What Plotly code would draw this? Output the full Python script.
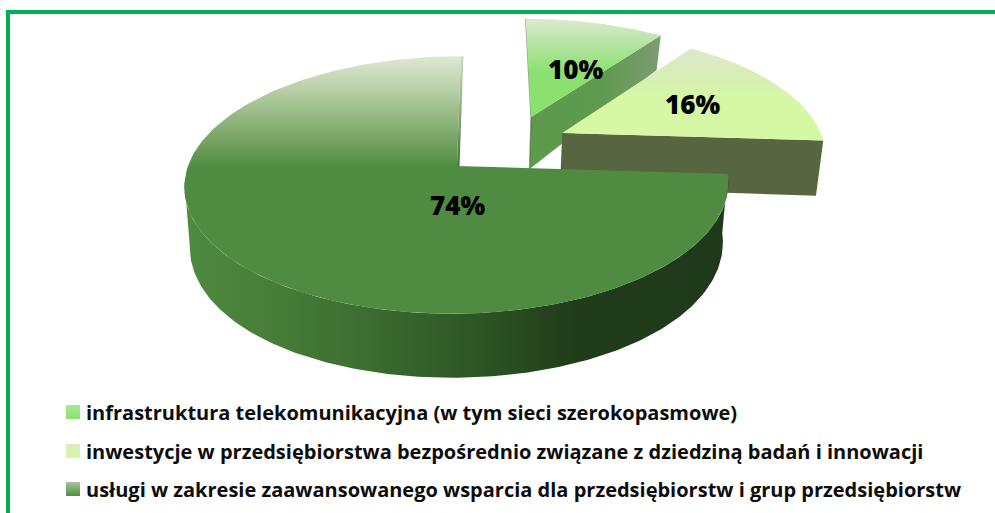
import numpy as np
import plotly.graph_objects as go

# ---- data ----
categories = [
    "infrastruktura telekomunikacyjna (w tym sieci szerokopasmowe)",
    "inwestycje w przedsiębiorstwa bezpośrednio związane z dziedziną badań i innowacji",
    "usługi w zakresie zaawansowanego wsparcia dla przedsiębiorstw i grup przedsiębiorstw",
]
values = [10, 16, 74]

# ---- style / layout constants ----
W, H = 995, 513
CX, CY = 457, 166
A, B, K, SHEAR = 126, 269, 0.147, 4.5
explode = [(0.285, 0.412), (0.402, 0.272), (0.0, 0.0)]
top_grad = [
    (18, 72, [[0, "#dcebd0"], [0.5, "#b4e4a0"], [1, "#8ce070"]]),
    (50, 98, [[0, "#dde8cc"], [0.5, "#d8edb8"], [1, "#d6f8a4"]]),
    (55, 168, [[0, "#dfe9d5"], [0.3, "#b9d0a8"], [0.7, "#7ea96b"], [1, "#4f8c42"]]),
]
swatch_top = ["#a8e896", "#dcebc4", "#a8c49c"]
swatch_bot = ["#8ce070", "#d6f8a4", "#4f8c42"]
label_xy = [(575, 69), (692, 104), (457, 205)]
legend_y = [412, 451, 489]


def depth(Y):
    return 58 - 12 * Y - 6 * Y ** 2


def project(X, Y, low=False):
    X, Y = np.asarray(X, float), np.asarray(Y, float)
    p = 1 + K * Y
    x = CX + (B * X + SHEAR * Y) / p
    y = CY - A * Y / p
    if low:
        x = CX + (x - CX) * 0.98
        y = y + depth(Y)
    return x, y


def face(xs, ys, **grad):
    return go.Scatter(x=list(xs), y=list(ys), mode="lines", line=dict(width=0),
                      fill="toself", hoverinfo="skip", showlegend=False, **grad)


def hgrad(x0, x1, scale):
    return dict(fillgradient=dict(type="horizontal", start=x0, stop=x1, colorscale=scale))


def vgrad(y0, y1, scale):
    return dict(fillgradient=dict(type="vertical", start=y0, stop=y1, colorscale=scale))


# slice angles, clockwise from twelve o'clock
edges = np.cumsum([0] + values) / sum(values) * 2 * np.pi


def arc(i, a0=None, a1=None):
    a0 = edges[i] if a0 is None else a0
    a1 = edges[i + 1] if a1 is None else a1
    th = np.linspace(a0, a1, 160)
    ex, ey = explode[i]
    return ex + np.sin(th), ey + np.cos(th)


fig = go.Figure()

# back slice 0 : cut wall and thin wall at left
ex, ey = explode[0]
Xa, Ya = arc(0)
ax, ay = project(ex, ey)
alx, aly = project(ex, ey, True)
cx, cy = project(Xa[-1], Ya[-1])
clx, cly = project(Xa[-1], Ya[-1], True)
fig.add_trace(face([ax, cx, clx, alx, ax], [ay, cy, cly, aly, ay],
                   **hgrad(float(ax), float(cx), [[0, "#5d9a4c"], [0.55, "#5f9a4e"], [1, "#7c9c72"]])))
lx, ly = project(Xa[0], Ya[0])
fig.add_trace(go.Scatter(x=[float(lx), float(ax), float(alx)], y=[float(ly), float(ay), float(aly)],
                         mode="lines", line=dict(color="rgba(70,100,60,0.55)", width=1.5),
                         hoverinfo="skip", showlegend=False))
tx, ty = project(Xa, Ya)
fig.add_trace(face(np.r_[ax, tx, ax], np.r_[ay, ty, ay], **vgrad(*top_grad[0][:2], top_grad[0][2])))

# slice 1 : cut wall
ex, ey = explode[1]
Xa, Ya = arc(1)
ax, ay = project(ex, ey)
alx, aly = project(ex, ey, True)
cx, cy = project(Xa[-1], Ya[-1])
clx, cly = project(Xa[-1], Ya[-1], True)
fig.add_trace(face([ax, cx, clx, alx, ax], [ay, cy, cly, aly, ay],
                   fillcolor="#576640"))
tx, ty = project(Xa, Ya)
fig.add_trace(face(np.r_[ax, tx, ax], np.r_[ay, ty, ay], **vgrad(*top_grad[1][:2], top_grad[1][2])))

# slice 2 : thin cut sliver, outer wall, top
Xw, Yw = arc(2, edges[2], np.radians(263))
wx, wy = project(Xw, Yw)
lwx, lwy = project(Xw, Yw, True)
fig.add_trace(face(np.r_[wx, lwx[::-1]], np.r_[wy, lwy[::-1]],
                   **hgrad(190, 726, [[0, "#4f8a40"], [0.3, "#3e7032"], [0.55, "#2c5324"],
                                      [0.72, "#213c1a"], [1, "#1f3a1a"]])))
Xa, Ya = arc(2)
ax, ay = project(0, 0)
ex1, ey1 = project(Xa[-1], Ya[-1])
fig.add_trace(face([ex1, ex1 + 2.5, ax + 2.5, ax, ex1], [ey1, ey1, ay, ay, ey1],
                   **vgrad(55, 168, [[0, "#cfdcc2"], [0.5, "#8aa87c"], [1, "#3f6f34"]])))
tx, ty = project(Xa, Ya)
fig.add_trace(face(np.r_[ax, tx, ax], np.r_[ay, ty, ay], **vgrad(*top_grad[2][:2], top_grad[2][2])))

# legend swatches, one per category
for name, c0, c1, y in zip(categories, swatch_top, swatch_bot, legend_y):
    fig.add_trace(go.Scatter(x=[73], y=[y], mode="markers", name=name, showlegend=False, hoverinfo="skip",
                             marker=dict(symbol="square", size=14, color=c0, line=dict(width=0),
                                         gradient=dict(type="vertical", color=c1))))

annotations = []
for v, (x, y) in zip(values, label_xy):
    annotations.append(dict(x=x, y=y, text=f"{v}%", showarrow=False,
                            font=dict(family="Open Sans", size=26, color="#000000", weight=800)))
for name, y in zip(categories, legend_y):
    annotations.append(dict(x=84, y=y, text=name, showarrow=False, xanchor="left",
                            font=dict(family="Open Sans", size=20, color="#0d0d0d", weight=700)))

fig.update_layout(
    width=W, height=H, margin=dict(l=0, r=0, t=0, b=0),
    paper_bgcolor="white", plot_bgcolor="white", showlegend=False,
    xaxis=dict(range=[0, W], visible=False, fixedrange=True),
    yaxis=dict(range=[H, 0], visible=False, fixedrange=True),
    annotations=annotations,
    shapes=[dict(type="path", path=f"M 8 {H} L 8 12 L {W} 12", xref="x", yref="y",
                 line=dict(color="#00B050", width=4))],
)
fig.write_html("out.html", post_script="document.body.style.margin='0';",
               config={"displayModeBar": False})
